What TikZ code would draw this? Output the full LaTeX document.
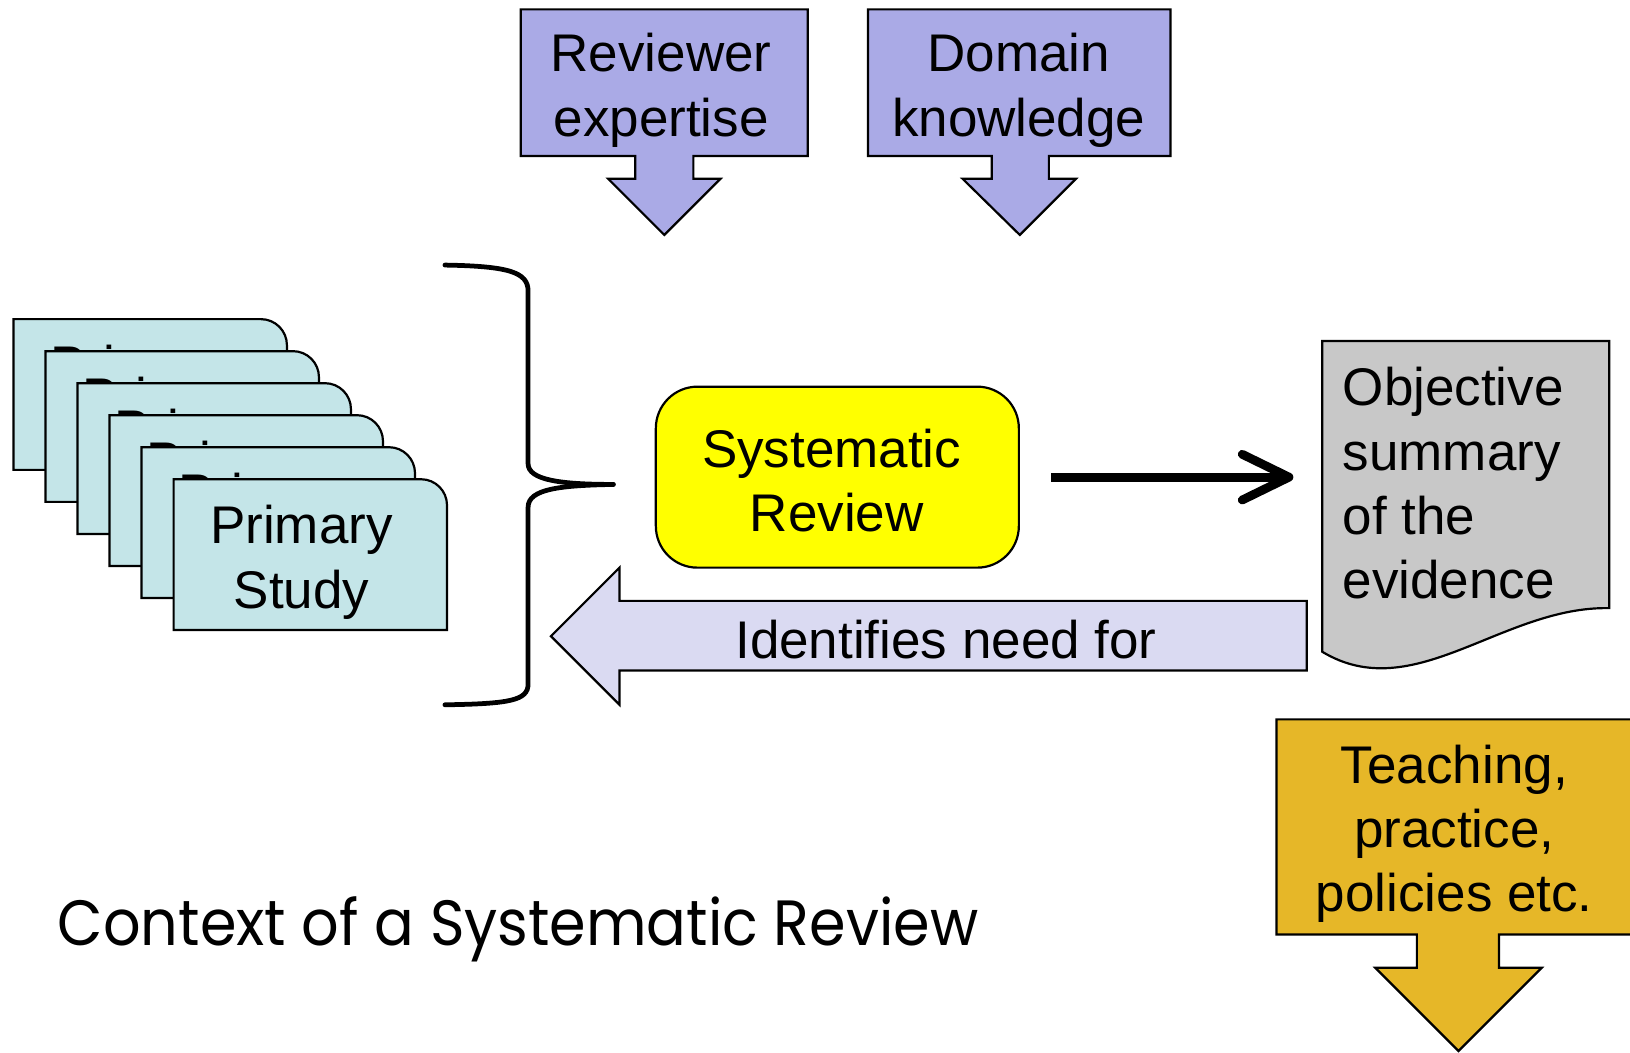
\documentclass[tikz,border=0pt]{standalone}
\usepackage{fontspec}
\setmainfont{Liberation Sans}
\newfontfamily\titlefont{Poppins}
\usetikzlibrary{arrows.meta}
\definecolor{callout}{RGB}{170,170,230}
\definecolor{cardfill}{RGB}{196,229,232}
\definecolor{srfill}{RGB}{255,255,0}
\definecolor{docgray}{RGB}{200,200,200}
\definecolor{needfill}{RGB}{218,218,242}
\definecolor{goldfill}{RGB}{230,183,40}
\begin{document}
\begin{tikzpicture}[x=0.01cm,y=-0.01cm,
  every node/.style={font=\fontsize{14.5}{17.6}\selectfont, inner sep=0pt},
  shapeline/.style={draw=black, line width=0.6pt, line join=miter},
  txt/.style={align=center},
  bracestyle/.style={draw=black, line width=1.3pt, line cap=round, line join=round},
  bigarrow/.style={draw=black, line width=2.4pt, line join=round, line cap=round}]
\useasboundingbox (0,0) rectangle (1568,1012);
\clip (0,0) rectangle (1568,1012);

% Reviewer expertise callout
\path[shapeline, fill=callout] (501,9) -- (777,9) -- (777,150) -- (667,150) -- (667,172) -- (693,172)
  -- (639,226) -- (585,172) -- (611,172) -- (611,150) -- (501,150) -- cycle;
\node[txt] (rev) at (636,87) {Reviewer\\expertise};

% Domain knowledge callout
\path[shapeline, fill=callout] (835,9) -- (1126,9) -- (1126,150) -- (1009,150) -- (1009,172) -- (1035,172)
  -- (981,226) -- (926,172) -- (954,172) -- (954,150) -- (835,150) -- cycle;
\node[txt] (dom) at (980,87) {Domain\\knowledge};

% Stack of primary study cards
\foreach \i in {0,...,5}{
  \pgfmathsetmacro{\l}{13+30.8*\i}
  \pgfmathsetmacro{\t}{307+30.8*\i}
  \path[shapeline, fill=cardfill] (\l,\t+145) -- (\l,\t) -- (\l+238,\t)
     arc[start angle=90, end angle=0, radius=0.25cm] -- (\l+263,\t+145) -- cycle;
  \node[txt] (card\i) at (\l+123,\t+80) {Primary\\Study};
}

% Brace
\coordinate (bracetip) at (590,466);
\draw[bracestyle] (428,255) .. controls (490,256) and (508,262) .. (508,280) -- (508,446)
  .. controls (508,462) and (540,466) .. (bracetip);
\draw[bracestyle] (bracetip) .. controls (540,467) and (508,470) .. (508,488) -- (508,658)
  .. controls (508,674) and (490,677) .. (428,678);

% Systematic Review
\node[shapeline, fill=srfill, rounded corners=0.4cm, minimum width=3.49cm, minimum height=1.74cm]
  (sr) at (805.5,459) {};
\node[txt] (srtext) at (800,462) {Systematic\\\hspace*{0.1cm}Review};

% Objective summary document
\path[shapeline, fill=docgray] (1272,328) -- (1548,328) -- (1548,585)
  .. controls (1445,583) and (1360,680) .. (1272,627) -- cycle;
\node[align=left, anchor=west] (doc) at (1291,465) {Objective\\summary\\of the\\evidence};
\coordinate (docW) at (1272,459);

% Thick arrow from review to summary
\coordinate (arrS) at ([xshift=0.3cm]sr.east);
\coordinate (arrE) at ([xshift=-0.32cm]docW);
\draw[bigarrow, line cap=butt] (arrS) -- ([xshift=-0.05cm]arrE);
\draw[bigarrow] (arrE) ++(-45,-22) -- (arrE) -- ++(-45,22);

% Identifies need for arrow
\path[shapeline, fill=needfill] (1257,578) -- (1257,645) -- (596,645) -- (596,678) -- (530,612)
  -- (596,546) -- (596,578) -- cycle;
\node (need) at (910,615) {Identifies need for};

% Teaching callout
\path[shapeline, fill=goldfill] (1228,692) -- (1600,692) -- (1600,899) -- (1442,899) -- (1442,931)
  -- (1483,931) -- (1403,1011) -- (1323,931) -- (1363,931) -- (1363,899) -- (1228,899) -- cycle;
\node[txt] (teach) at (1399,802) {Teaching,\\practice,\\policies etc.};

% Title
\node[anchor=base west] (title) at (55,910)
  {\resizebox{8.85cm}{0.47cm}{\titlefont\fontsize{18}{20}\selectfont Context of a Systematic Review}};
\end{tikzpicture}
\end{document}
